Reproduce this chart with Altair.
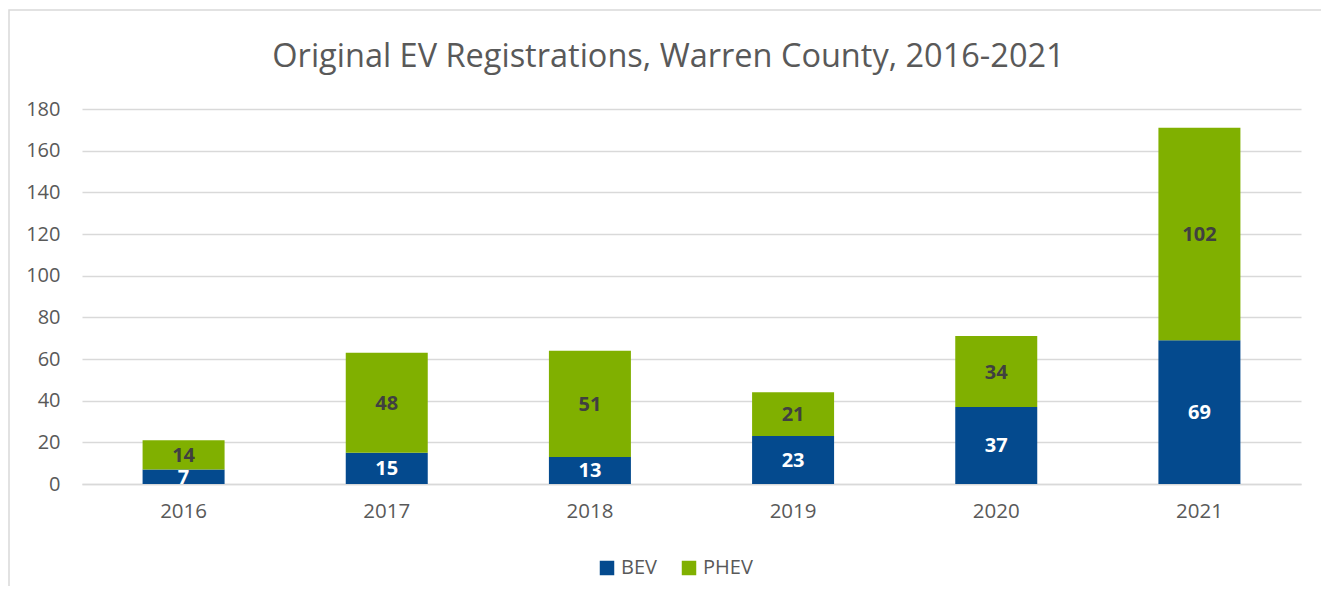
import altair as alt
import pandas as pd

years = ["2016", "2017", "2018", "2019", "2020", "2021"]
bev = [7, 15, 13, 23, 37, 69]
phev = [14, 48, 51, 21, 34, 102]
series = ["BEV", "PHEV"]
colors = ["#044A8E", "#80B000"]
label_colors = ["#FFFFFF", "#404040"]

rows = []
for i, y in enumerate(years):
    rows.append({"year": y, "type": "BEV", "count": bev[i], "ord": 0})
    rows.append({"year": y, "type": "PHEV", "count": phev[i], "ord": 1})
df = pd.DataFrame(rows)

FONT = "Open Sans"
W, H = 1219, 375

base = alt.Chart(df)

bars = base.mark_bar(size=82).encode(
    x=alt.X("year:N", sort=years, title=None,
            axis=alt.Axis(labelAngle=0, labelFontSize=20.5, labelColor="#595959",
                          labelFont=FONT, labelPadding=17, ticks=False,
                          domainColor="#D9D9D9", domainWidth=1.5)),
    y=alt.Y("count:Q", stack="zero", title=None,
            scale=alt.Scale(domain=[0, 180], nice=False),
            axis=alt.Axis(values=list(range(0, 181, 20)), labelFontSize=20,
                          labelColor="#595959", labelFont=FONT, labelPadding=22,
                          ticks=False, domain=False, gridColor="#D9D9D9",
                          gridWidth=1.5)),
    color=alt.Color("type:N", scale=alt.Scale(domain=series, range=colors),
                    legend=alt.Legend(title=None, orient="none", direction="horizontal",
                                      legendX=515, legendY=449, symbolType="square",
                                      symbolSize=210, symbolStrokeWidth=0,
                                      labelFontSize=20, labelColor="#595959",
                                      labelFont=FONT, columnPadding=22,
                                      symbolOpacity=1)),
    order=alt.Order("ord:Q", sort="ascending"),
)

labels = base.transform_stack(
    stack="count", groupby=["year"], as_=["y0", "y1"],
    sort=[alt.SortField("ord", order="ascending")]
).transform_calculate(
    mid="(datum.y0 + datum.y1) / 2"
).mark_text(font=FONT, fontSize=20, fontWeight="bold", baseline="middle", dy=1).encode(
    x=alt.X("year:N", sort=years),
    y=alt.Y("mid:Q"),
    text=alt.Text("count:Q"),
    color=alt.Color("type:N", scale=alt.Scale(domain=series, range=label_colors),
                    legend=None),
)

border = alt.Chart(alt.Data(values=[{"b": 1}])).mark_rect(
    fill=None, stroke="#D9D9D9", strokeWidth=1.5
).encode(
    x=alt.value(-73), x2=alt.value(W + 60), y=alt.value(-99), y2=alt.value(H + 140)
)

chart = alt.layer(border, bars, labels).resolve_scale(color="independent").properties(
    width=W, height=H,
    title=alt.TitleParams("Original EV Registrations, Warren County, 2016-2021",
                          font=FONT, fontSize=32.5, fontWeight="normal", color="#595959",
                          anchor="middle", dx=-23, offset=-64),
    autosize=alt.AutoSizeParams(type="none"),
    padding={"left": 74, "top": 101, "right": 20, "bottom": 102},
).configure_view(stroke=None)

chart.save("out.html", embed_options={"renderer": "svg", "actions": False})
